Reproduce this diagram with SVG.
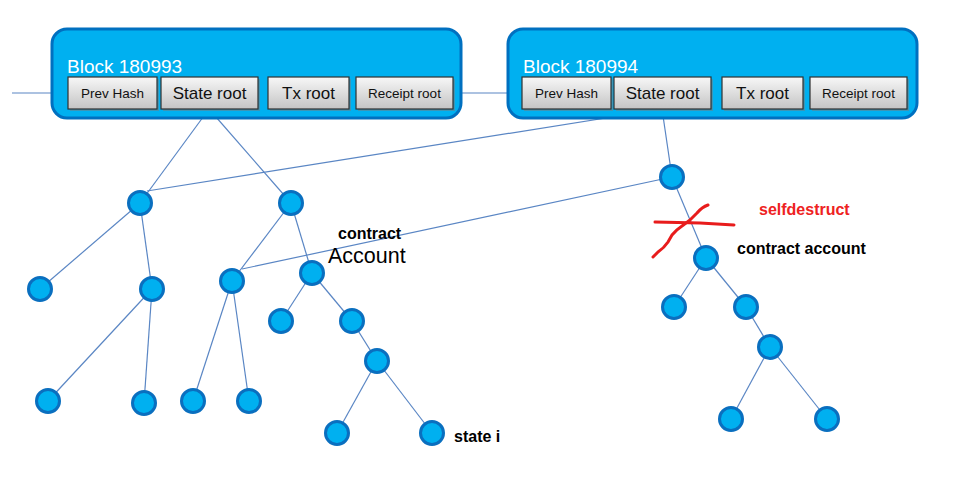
<svg xmlns="http://www.w3.org/2000/svg" width="961" height="479" viewBox="0 0 961 479">
<defs>
<linearGradient id="boxg" x1="0" y1="0" x2="0" y2="1">
<stop offset="0" stop-color="#f7f7f7"/>
<stop offset="1" stop-color="#c4c4c4"/>
</linearGradient>
<style>
.blk{fill:#00b0f0;stroke:#0070c0;stroke-width:3}
.box{fill:url(#boxg);stroke:#303030;stroke-width:1.2}
.shadow{fill:#7a7a7a;opacity:0.5}
.title{font-family:"Liberation Sans",Arial,sans-serif;font-size:19px;fill:#ffffff}
.bt{font-family:"Liberation Sans",Arial,sans-serif;fill:#111111;text-anchor:middle}
.s{font-size:13.5px}
.l{font-size:17px}
.edge{stroke:#5a86c4;stroke-width:1.2;fill:none}
.node circle{fill:#00b0f0;stroke:#0a6fbf;stroke-width:3}
.lbl{font-family:"Liberation Sans",Arial,sans-serif;font-weight:bold;font-size:16px;fill:#000}
.red{fill:#ee2222}
.scrib{stroke:#e81c1c;stroke-width:3;fill:none;stroke-linecap:round;stroke-linejoin:round}
</style>
</defs>
<rect width="961" height="479" fill="#ffffff"/>

<g id="connectors">
<line class="edge" x1="12" y1="93" x2="68" y2="93"/>
<line class="edge" x1="461" y1="93" x2="522" y2="93"/>
<line class="edge" x1="209" y1="109" x2="140" y2="203"/>
<line class="edge" x1="209" y1="109" x2="291" y2="203"/>
<line class="edge" x1="662" y1="109" x2="147" y2="191"/>
<line class="edge" x1="662" y1="109" x2="672" y2="177"/>
<line class="edge" x1="672" y1="177" x2="242" y2="269"/>
<line class="edge" x1="672" y1="177" x2="706" y2="258"/>
<line class="edge" x1="140" y1="203" x2="40" y2="289"/>
<line class="edge" x1="140" y1="203" x2="152" y2="289"/>
<line class="edge" x1="291" y1="203" x2="232" y2="281"/>
<line class="edge" x1="291" y1="203" x2="312" y2="273"/>
<line class="edge" x1="152" y1="289" x2="48" y2="401"/>
<line class="edge" x1="152" y1="289" x2="144" y2="403"/>
<line class="edge" x1="232" y1="281" x2="193" y2="401"/>
<line class="edge" x1="232" y1="281" x2="249" y2="401"/>
<line class="edge" x1="312" y1="273" x2="281" y2="321"/>
<line class="edge" x1="312" y1="273" x2="352" y2="321"/>
<line class="edge" x1="352" y1="321" x2="377" y2="361"/>
<line class="edge" x1="377" y1="361" x2="337" y2="433"/>
<line class="edge" x1="377" y1="361" x2="432" y2="433"/>
<line class="edge" x1="706" y1="258" x2="674" y2="307"/>
<line class="edge" x1="706" y1="258" x2="746" y2="307"/>
<line class="edge" x1="746" y1="307" x2="770" y2="347"/>
<line class="edge" x1="770" y1="347" x2="731" y2="419"/>
<line class="edge" x1="770" y1="347" x2="827" y2="419"/>
</g>

<g id="block180993">
<rect class="blk" x="52" y="29" width="409" height="89" rx="15"/>
<text class="title" x="67" y="73">Block 180993</text>
<rect class="shadow" x="70" y="79" width="89" height="32"/>
<rect class="box" x="68" y="77" width="89" height="32"/>
<text class="bt s" x="112.5" y="98">Prev Hash</text>
<rect class="shadow" x="163" y="79" width="97" height="32"/>
<rect class="box" x="161" y="77" width="97" height="32"/>
<text class="bt l" x="209.5" y="99">State root</text>
<rect class="shadow" x="270" y="79" width="81" height="32"/>
<rect class="box" x="268" y="77" width="81" height="32"/>
<text class="bt l" x="308.5" y="99">Tx root</text>
<rect class="shadow" x="358" y="79" width="97" height="32"/>
<rect class="box" x="356" y="77" width="97" height="32"/>
<text class="bt s" x="404.5" y="98">Receipt root</text>
</g>

<g id="block180994">
<rect class="blk" x="508" y="29" width="409" height="89" rx="15"/>
<text class="title" x="523" y="73">Block 180994</text>
<rect class="shadow" x="524" y="79" width="89" height="32"/>
<rect class="box" x="522" y="77" width="89" height="32"/>
<text class="bt s" x="566.5" y="98">Prev Hash</text>
<rect class="shadow" x="616" y="79" width="97" height="32"/>
<rect class="box" x="614" y="77" width="97" height="32"/>
<text class="bt l" x="662.5" y="99">State root</text>
<rect class="shadow" x="724" y="79" width="81" height="32"/>
<rect class="box" x="722" y="77" width="81" height="32"/>
<text class="bt l" x="762.5" y="99">Tx root</text>
<rect class="shadow" x="812" y="79" width="97" height="32"/>
<rect class="box" x="810" y="77" width="97" height="32"/>
<text class="bt s" x="858.5" y="98">Receipt root</text>
</g>

<g id="n1" class="node"><circle cx="140" cy="203" r="11.5"/></g>
<g id="n2" class="node"><circle cx="291" cy="203" r="11.5"/></g>
<g id="n3" class="node"><circle cx="40" cy="289" r="11.5"/></g>
<g id="n4" class="node"><circle cx="152" cy="289" r="11.5"/></g>
<g id="n5" class="node"><circle cx="232" cy="281" r="11.5"/></g>
<g id="n6" class="node"><circle cx="312" cy="273" r="11.5"/></g>
<g id="n7" class="node"><circle cx="48" cy="401" r="11.5"/></g>
<g id="n8" class="node"><circle cx="144" cy="403" r="11.5"/></g>
<g id="n9" class="node"><circle cx="193" cy="401" r="11.5"/></g>
<g id="n10" class="node"><circle cx="249" cy="401" r="11.5"/></g>
<g id="n11" class="node"><circle cx="281" cy="321" r="11.5"/></g>
<g id="n12" class="node"><circle cx="352" cy="321" r="11.5"/></g>
<g id="n13" class="node"><circle cx="377" cy="361" r="11.5"/></g>
<g id="n14" class="node"><circle cx="337" cy="433" r="11.5"/></g>
<g id="n15" class="node"><circle cx="432" cy="433" r="11.5"/></g>
<g id="n16" class="node"><circle cx="672" cy="177" r="11.5"/></g>
<g id="n17" class="node"><circle cx="706" cy="258" r="11.5"/></g>
<g id="n18" class="node"><circle cx="674" cy="307" r="11.5"/></g>
<g id="n19" class="node"><circle cx="746" cy="307" r="11.5"/></g>
<g id="n20" class="node"><circle cx="770" cy="347" r="11.5"/></g>
<g id="n21" class="node"><circle cx="731" cy="419" r="11.5"/></g>
<g id="n22" class="node"><circle cx="827" cy="419" r="11.5"/></g>

<g id="labels">
<text class="lbl" x="338" y="239">contract</text>
<text x="328" y="263" font-family="Liberation Sans,Arial,sans-serif" font-size="21.5" fill="#000">Account</text>
<text class="lbl" x="737" y="254">contract account</text>
<text class="lbl" x="454" y="442">state i</text>
<text class="lbl red" x="759" y="215">selfdestruct</text>
</g>

<g id="cross">
<path class="scrib" d="M655,222 L700,223 L734,225"/>
<path class="scrib" d="M653,257 L658,252 Q664,248 668,242 L672,235 Q676,230 682,226 L690,220 L697,213 Q702,207 708,205"/>
</g>
</svg>
